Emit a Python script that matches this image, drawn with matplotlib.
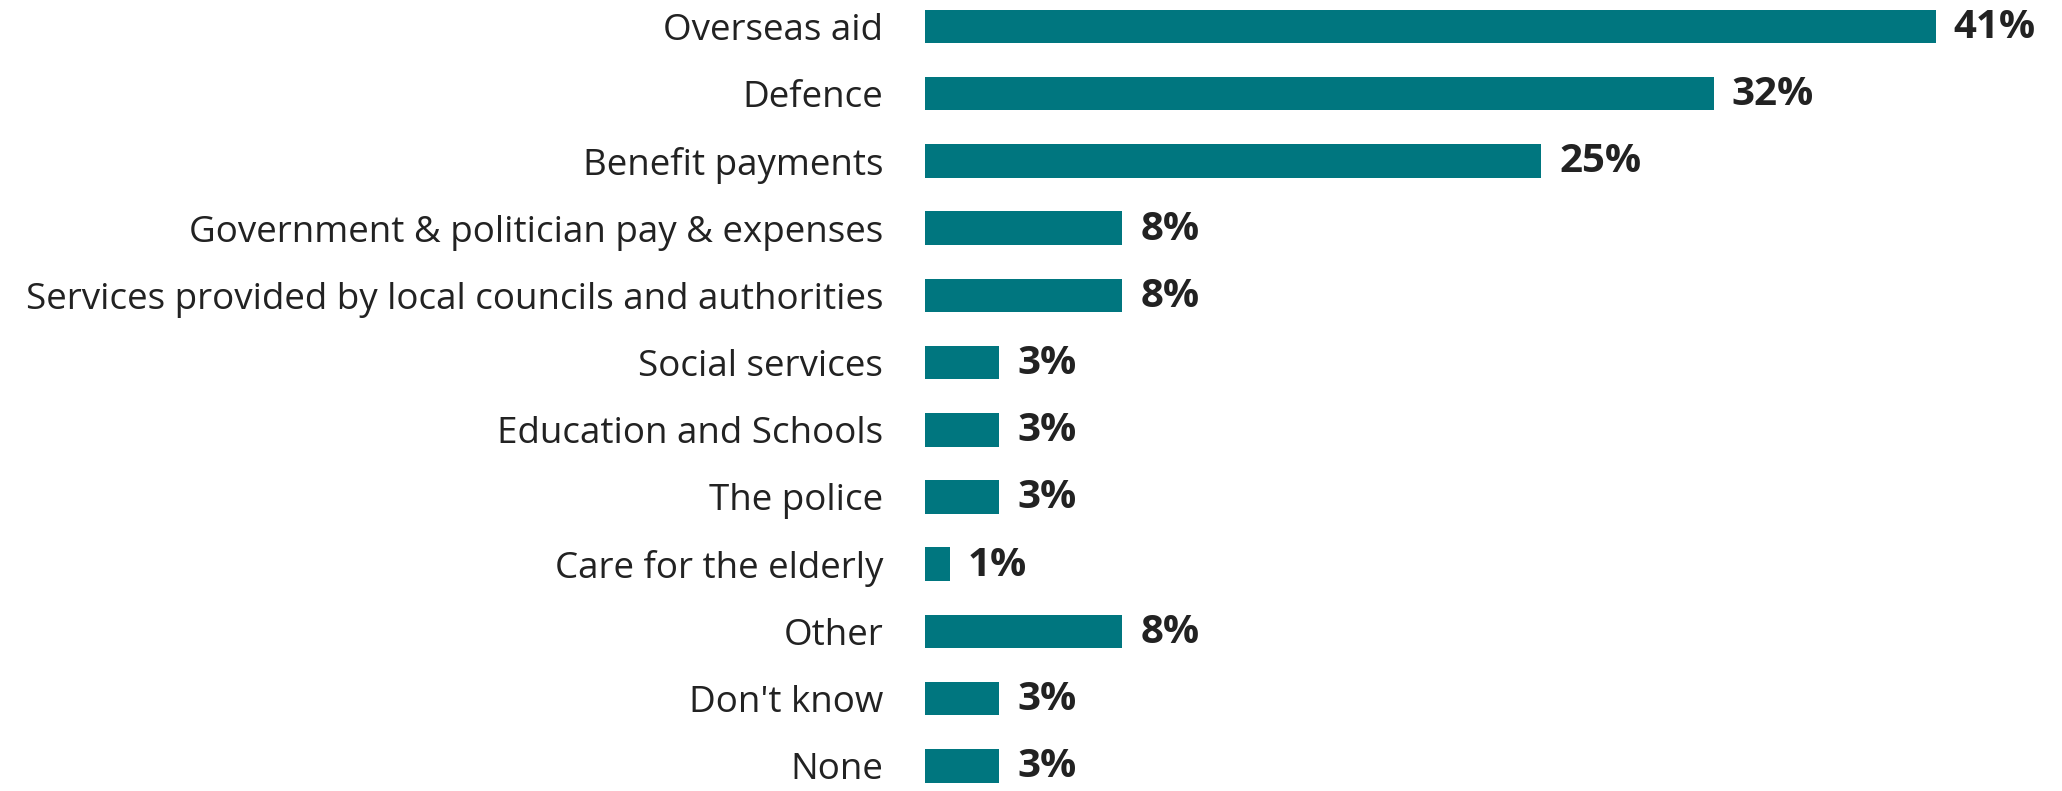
import matplotlib
matplotlib.use("Agg")
import matplotlib.pyplot as plt

# Share of respondents naming each area of spending
categories = [
    "Overseas aid",
    "Defence",
    "Benefit payments",
    "Government & politician pay & expenses",
    "Services provided by local councils and authorities",
    "Social services",
    "Education and Schools",
    "The police",
    "Care for the elderly",
    "Other",
    "Don't know",
    "None",
]
values = [41, 32, 25, 8, 8, 3, 3, 3, 1, 8, 3, 3]

bar_color = "#00767f"
text_color = "#222222"

plt.rcParams["font.family"] = ["Open Sans", "DejaVu Sans"]

W, H = 2062, 791
fig = plt.figure(figsize=(W / 100, H / 100), dpi=100)

# axes starts where the bars start; rows spaced ~67 px
left_px = 925
px_per_unit = 24.65
row_px = 67.2
first_center = 26.5
ax = fig.add_axes([left_px / W, 0, 1 - left_px / W, 1])

ypos = list(range(len(categories)))
ax.barh(ypos, values, height=0.5, color=bar_color)

ax.set_xlim(0, (W - left_px) / px_per_unit)
ax.set_ylim((H - first_center) / row_px, -first_center / row_px)

ax.set_yticks(ypos)
ax.set_yticklabels(categories, fontsize=26.5, color=text_color)
ax.tick_params(axis="y", length=0, pad=30)
ax.set_xticks([])
for s in ax.spines.values():
    s.set_visible(False)

for y, v in zip(ypos, values):
    ax.annotate(f"{v}%", (v, y), xytext=(18, -1), textcoords="offset pixels",
                ha="left", va="center", fontsize=29, fontweight="bold",
                color=text_color)

fig.savefig("out.png", dpi=100)
